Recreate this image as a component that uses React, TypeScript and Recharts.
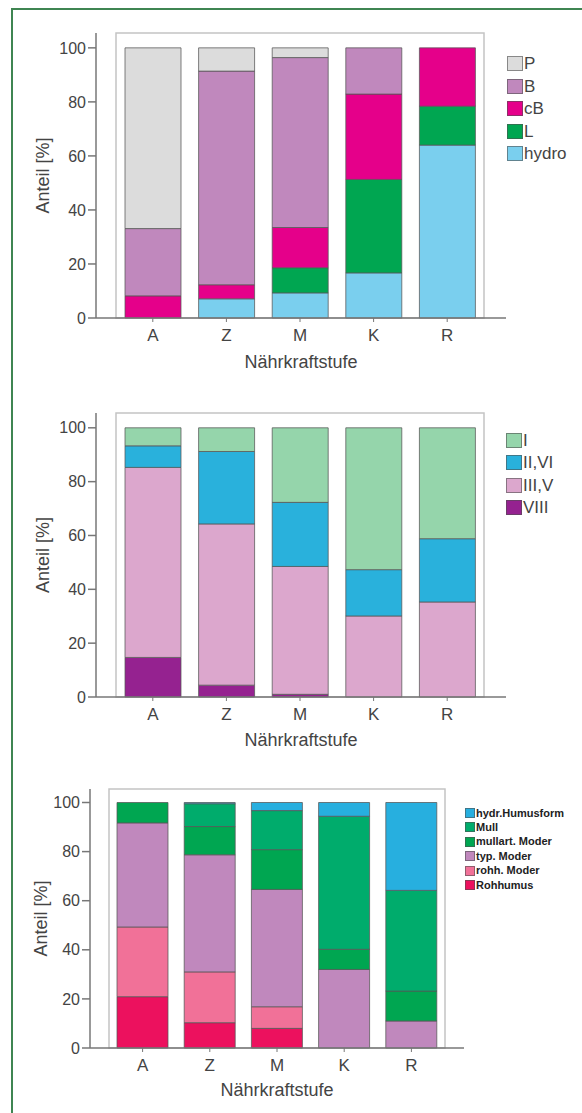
import { BarChart, Bar, XAxis, YAxis, ReferenceArea, Label } from "recharts";

const categories = ["A", "Z", "M", "K", "R"];
const yTicks = [0, 20, 40, 60, 80, 100];

// Chart 1 – Humusform nach Bodentyp (bottom -> top)
const hydro = [0, 7.1, 9.3, 16.7, 64.0];
const lValues = [0, 0, 9.3, 34.6, 14.4];
const cB = [8.2, 5.2, 14.9, 31.6, 21.6];
const bValues = [24.9, 79.1, 62.9, 17.1, 0];
const pValues = [66.9, 8.6, 3.6, 0, 0];

// Chart 2 – Wasserhaushaltsstufen (bottom -> top)
const viii = [14.7, 4.4, 1.0, 0, 0];
const iiiV = [70.6, 59.9, 47.5, 30.1, 35.3];
const iiVi = [8.0, 26.9, 23.8, 17.2, 23.5];
const iValues = [6.7, 8.8, 27.7, 52.7, 41.2];

// Chart 3 – Humusformen (bottom -> top)
const rohhumus = [20.9, 10.3, 8.0, 0, 0];
const rohhModer = [28.4, 20.7, 8.8, 0, 0];
const typModer = [42.4, 47.7, 47.8, 32.0, 11.0];
const mullartModer = [8.3, 11.5, 16.2, 8.2, 12.2];
const mull = [0, 9.3, 15.9, 54.2, 41.0];
const hydrHumus = [0, 0.5, 3.3, 5.6, 35.8];

type Series = { key: string; label: string; color: string; values: number[] };

const series1: Series[] = [
  { key: "hydro", label: "hydro", color: "#7acfee", values: hydro },
  { key: "L", label: "L", color: "#00a651", values: lValues },
  { key: "cB", label: "cB", color: "#e5008a", values: cB },
  { key: "B", label: "B", color: "#c088bd", values: bValues },
  { key: "P", label: "P", color: "#dcdcdc", values: pValues },
];

const series2: Series[] = [
  { key: "viii", label: "VIII", color: "#952290", values: viii },
  { key: "iiiv", label: "III,V", color: "#dca7cd", values: iiiV },
  { key: "iivi", label: "II,VI", color: "#29b1dc", values: iiVi },
  { key: "i", label: "I", color: "#95d5ab", values: iValues },
];

const series3: Series[] = [
  { key: "roh", label: "Rohhumus", color: "#ec115e", values: rohhumus },
  { key: "rohh", label: "rohh. Moder", color: "#f17198", values: rohhModer },
  { key: "typ", label: "typ. Moder", color: "#c088bd", values: typModer },
  { key: "mullart", label: "mullart. Moder", color: "#00a651", values: mullartModer },
  { key: "mull", label: "Mull", color: "#00ac6c", values: mull },
  { key: "hydr", label: "hydr.Humusform", color: "#27afdf", values: hydrHumus },
];

const FONT = "'Liberation Sans', Arial, sans-serif";

function buildRows(series: Series[]) {
  return categories.map((cat, i) => {
    const row: Record<string, string | number> = { cat };
    series.forEach((s) => (row[s.key] = s.values[i]));
    return row;
  });
}

interface LegendProps {
  series: Series[];
  left: number;
  top: number;
  rowH: number;
  sw: number;
  sh: number;
  fontSize: number;
  bold?: boolean;
}

function Legend({ series, left, top, rowH, sw, sh, fontSize, bold }: LegendProps) {
  const items = [...series].reverse();
  return (
    <div style={{ position: "absolute", left, top }}>
      {items.map((s, i) => (
        <div
          key={s.key}
          style={{
            position: "absolute",
            top: i * rowH,
            left: 0,
            height: sh,
            display: "flex",
            alignItems: "center",
            whiteSpace: "nowrap",
          }}
        >
          <div
            style={{
              width: sw,
              height: sh,
              background: s.color,
              boxSizing: "border-box",
              border: "1px solid rgba(80,80,80,0.6)",
            }}
          />
          <span
            style={{
              fontSize,
              fontWeight: bold ? 700 : 400,
              color: bold ? "#222" : "#444",
              marginLeft: 1,
              lineHeight: 1,
            }}
          >
            {s.label}
          </span>
        </div>
      ))}
    </div>
  );
}

interface ChartProps {
  series: Series[];
  top: number;
  height: number;
  marginTop: number;
  marginRight: number;
  marginBottom: number;
  yAxisWidth: number;
  xAxisHeight: number;
  barSize: number;
  padL: number;
  padR: number;
  yLabelX: number;
  titleDy: number;
  tickFont: number;
  catFont: number;
  titleFont: number;
  legend: Omit<LegendProps, "series">;
}

function StackChart(p: ChartProps) {
  const data = buildRows(p.series);
  return (
    <div style={{ position: "absolute", left: 0, top: p.top, width: 582, height: p.height, fontFamily: FONT }}>
      <BarChart
        width={582}
        height={p.height}
        data={data}
        margin={{ top: p.marginTop, right: p.marginRight, left: 0, bottom: p.marginBottom }}
        barSize={p.barSize}
      >
        <ReferenceArea y1={0} y2={105.5} fill="none" stroke="#c4c4c4" strokeWidth={1.5} ifOverflow="visible" />
        <YAxis
          type="number"
          domain={[0, 105.5]}
          ticks={yTicks}
          width={p.yAxisWidth}
          tickSize={8}
          tickMargin={2}
          axisLine={{ stroke: "#777", strokeWidth: 1.5 }}
          tickLine={{ stroke: "#777", strokeWidth: 1.5 }}
          tick={{ fontSize: p.tickFont, fill: "#444", fontFamily: FONT }}
        >
          <Label
            content={(lp: any) => {
              const vb = lp.viewBox;
              if (!vb) return null;
              const cx = vb.x + p.yLabelX;
              const cy = vb.y + vb.height / 2;
              return (
                <text
                  x={cx}
                  y={cy}
                  transform={`rotate(-90 ${cx} ${cy})`}
                  textAnchor="middle"
                  dominantBaseline="central"
                  fontSize={p.titleFont}
                  fill="#444"
                  fontFamily={FONT}
                >
                  Anteil [%]
                </text>
              );
            }}
          />
        </YAxis>
        <XAxis
          dataKey="cat"
          height={p.xAxisHeight}
          padding={{ left: p.padL, right: p.padR }}
          tickSize={4}
          tickMargin={7}
          axisLine={{ stroke: "#777", strokeWidth: 1.5 }}
          tickLine={{ stroke: "#777" }}
          tick={{ fontSize: p.catFont, fill: "#444", fontFamily: FONT }}
        >
          <Label
            content={(lp: any) => {
              const vb = lp.viewBox;
              if (!vb) return null;
              return (
                <text
                  x={vb.x + vb.width / 2}
                  y={vb.y + p.titleDy}
                  textAnchor="middle"
                  dominantBaseline="central"
                  fontSize={p.titleFont}
                  fill="#444"
                  fontFamily={FONT}
                >
                  Nährkraftstufe
                </text>
              );
            }}
          />
        </XAxis>
        {p.series.map((s) => (
          <Bar
            key={s.key}
            dataKey={s.key}
            stackId="a"
            fill={s.color}
            stroke="#555"
            strokeOpacity={0.75}
            strokeWidth={1}
            isAnimationActive={false}
          />
        ))}
      </BarChart>
      <Legend series={p.series} {...p.legend} />
    </div>
  );
}

export default function App() {
  return (
    <div style={{ position: "absolute", left: 0, top: 0, width: 582, height: 1113, background: "#fff", overflow: "hidden" }}>
      <div style={{ position: "absolute", left: 11, top: 8, width: 571, height: 2, background: "#3f8552" }} />
      <div style={{ position: "absolute", left: 11, top: 8, width: 2, height: 1105, background: "#3f8552" }} />
      <StackChart
        series={series1}
        top={0}
        height={380}
        marginTop={33}
        marginRight={76}
        marginBottom={10}
        yAxisWidth={96}
        xAxisHeight={52}
        barSize={56}
        padL={20}
        padR={22}
        yLabelX={43}
        titleDy={44}
        tickFont={16}
        catFont={17}
        titleFont={18}
        legend={{ left: 507, top: 56, rowH: 22.5, sw: 16, sh: 15, fontSize: 17 }}
      />
      <StackChart
        series={series2}
        top={380}
        height={380}
        marginTop={33}
        marginRight={76}
        marginBottom={11}
        yAxisWidth={96}
        xAxisHeight={52}
        barSize={56}
        padL={20}
        padR={22}
        yLabelX={43}
        titleDy={43}
        tickFont={16}
        catFont={17}
        titleFont={18}
        legend={{ left: 506, top: 52.5, rowH: 22.5, sw: 16, sh: 15, fontSize: 17 }}
      />
      <StackChart
        series={series3}
        top={740}
        height={370}
        marginTop={49}
        marginRight={118}
        marginBottom={12}
        yAxisWidth={90}
        xAxisHeight={50}
        barSize={51}
        padL={19}
        padR={19}
        yLabelX={41}
        titleDy={42}
        tickFont={16}
        catFont={17}
        titleFont={18}
        legend={{ left: 465, top: 68, rowH: 14.4, sw: 10, sh: 10, fontSize: 11, bold: true }}
      />
    </div>
  );
}
